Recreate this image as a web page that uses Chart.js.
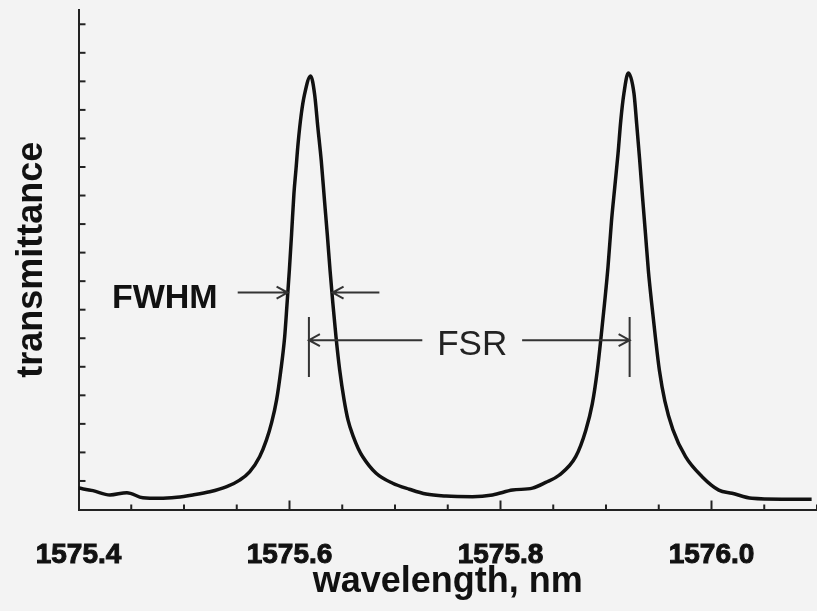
<!DOCTYPE html>
<html>
<head>
<meta charset="utf-8">
<script src="https://cdn.jsdelivr.net/npm/chart.js@4"></script>
<style>
  body { margin: 0; background: #f3f3f3; }
  #wrap { width: 817px; height: 611px; }
</style>
</head>
<body>
<div id="wrap"><canvas id="myChart" width="817" height="611"></canvas></div>
<script>
// wavelength (nm) and transmittance
const wavelength = [
    1575.4000, 1575.4137, 1575.4298, 1575.4459, 1575.4610, 1575.4771, 1575.4932, 1575.5083,
    1575.5244, 1575.5405, 1575.5528, 1575.5622, 1575.5717, 1575.5781, 1575.5831, 1575.5878,
    1575.5918, 1575.5954, 1575.5977, 1575.5999, 1575.6020, 1575.6042, 1575.6061, 1575.6081,
    1575.6112, 1575.6143, 1575.6200, 1575.6238, 1575.6269, 1575.6301, 1575.6330, 1575.6359,
    1575.6385, 1575.6411, 1575.6441, 1575.6476, 1575.6517, 1575.6555, 1575.6605, 1575.6650,
    1575.6694, 1575.6821, 1575.6978, 1575.7136, 1575.7294, 1575.7483, 1575.7735, 1575.7924,
    1575.8114, 1575.8303, 1575.8429, 1575.8555, 1575.8713, 1575.8808, 1575.8870, 1575.8918,
    1575.8953, 1575.8986, 1575.9019, 1575.9052, 1575.9083, 1575.9114, 1575.9140, 1575.9170,
    1575.9211, 1575.9265, 1575.9291, 1575.9318, 1575.9345, 1575.9374, 1575.9402, 1575.9433,
    1575.9468, 1575.9506, 1575.9558, 1575.9634, 1575.9754, 1575.9911, 1576.0069, 1576.0195,
    1576.0384, 1576.0665, 1576.0949
];
const transmittance = [
    0.75, 0.66, 0.51, 0.59, 0.41, 0.39, 0.43, 0.51,
    0.62, 0.80, 1.03, 1.32, 1.85, 2.43, 3.05, 3.85,
    4.88, 6.04, 7.22, 8.40, 9.67, 11.07, 11.90, 12.81,
    13.86, 14.55, 15.19, 14.55, 13.38, 12.22, 10.90, 9.60,
    8.35, 7.22, 6.04, 4.88, 3.85, 3.13, 2.55, 2.15,
    1.85, 1.27, 0.92, 0.71, 0.54, 0.47, 0.45, 0.51,
    0.68, 0.75, 0.95, 1.20, 1.85, 2.77, 3.70, 4.88,
    6.04, 7.22, 8.50, 10.10, 11.29, 12.47, 13.62, 14.58,
    15.29, 14.58, 13.50, 12.30, 11.00, 9.67, 8.35, 7.22,
    6.04, 4.88, 3.80, 2.80, 1.85, 1.15, 0.68, 0.57,
    0.39, 0.36, 0.36
];
const xTickLabels = ['1575.4', '1575.6', '1575.8', '1576.0'];

// annotations, in data units
const fwhm = { level: 7.6, left: 1575.5982, right: 1575.6408, leftFrom: 1575.5509, rightFrom: 1575.6852, textX: 1575.4818, textY: 7.05 };
const fsr = { level: 5.93, left: 1575.6184, right: 1575.9224, top: 6.74, bottom: 4.64, gapL: 1575.7259, gapR: 1575.8205, textX: 1575.7732, textY: 5.40 };

const axisColor = '#222';

function arrow(ctx, x1, y, x2) {
    // line from x1 to x2 with an open head at x2
    const dir = x2 > x1 ? 1 : -1;
    ctx.beginPath();
    ctx.moveTo(x1, y);
    ctx.lineTo(x2, y);
    ctx.moveTo(x2 - dir * 11, y - 6);
    ctx.lineTo(x2, y);
    ctx.lineTo(x2 - dir * 11, y + 6);
    ctx.stroke();
}

const extras = {
    id: 'extras',
    afterDraw(chart) {
        const ctx = chart.ctx;
        const x = chart.scales.x, y = chart.scales.y;
        const area = chart.chartArea;
        ctx.save();
        ctx.strokeStyle = axisColor;
        ctx.lineWidth = 2;
        // inward tick marks
        x.ticks.forEach(t => {
            const px = x.getPixelForValue(t.value);
            if (px <= area.left + 1 || px > area.right) return;
            const major = Math.abs(t.value * 5 - Math.round(t.value * 5)) < 1e-6;
            ctx.beginPath();
            ctx.moveTo(px, area.bottom);
            ctx.lineTo(px, area.bottom - (major ? 9 : 5));
            ctx.stroke();
        });
        y.ticks.forEach(t => {
            if (t.value <= 0 || Math.abs(t.value - Math.round(t.value)) > 1e-6) return;
            const py = y.getPixelForValue(t.value);
            ctx.beginPath();
            ctx.moveTo(area.left, py);
            ctx.lineTo(area.left + 7, py);
            ctx.stroke();
        });

        // FWHM
        ctx.strokeStyle = '#333';
        ctx.lineWidth = 2;
        const fy = y.getPixelForValue(fwhm.level);
        arrow(ctx, x.getPixelForValue(fwhm.leftFrom), fy, x.getPixelForValue(fwhm.left));
        arrow(ctx, x.getPixelForValue(fwhm.rightFrom), fy, x.getPixelForValue(fwhm.right));
        ctx.fillStyle = '#111';
        ctx.font = 'bold 34px "Liberation Sans", Arial, sans-serif';
        ctx.textAlign = 'center';
        ctx.textBaseline = 'alphabetic';
        ctx.fillText('FWHM', x.getPixelForValue(fwhm.textX), y.getPixelForValue(fwhm.textY));

        // FSR
        const sy = y.getPixelForValue(fsr.level);
        const sl = x.getPixelForValue(fsr.left), sr = x.getPixelForValue(fsr.right);
        const top = y.getPixelForValue(fsr.top), bot = y.getPixelForValue(fsr.bottom);
        ctx.beginPath();
        ctx.moveTo(sl, top); ctx.lineTo(sl, bot);
        ctx.moveTo(sr, top); ctx.lineTo(sr, bot);
        ctx.stroke();
        arrow(ctx, x.getPixelForValue(fsr.gapL), sy, sl);
        arrow(ctx, x.getPixelForValue(fsr.gapR), sy, sr);
        ctx.fillStyle = '#222';
        ctx.font = '35px "Liberation Sans", Arial, sans-serif';
        ctx.fillText('FSR', x.getPixelForValue(fsr.textX), y.getPixelForValue(fsr.textY));
        ctx.restore();
    }
};

const ctx = document.getElementById('myChart').getContext('2d');
const myChart = new Chart(ctx, {
    type: 'line',
    data: {
        datasets: [{
            label: 'transmittance',
            data: wavelength.map((w, i) => ({ x: w, y: transmittance[i] })),
            borderColor: '#111',
            borderWidth: 3.5,
            pointRadius: 0,
            cubicInterpolationMode: 'monotone',
            fill: false
        }]
    },
    options: {
        responsive: false,
        animation: false,
        layout: { padding: { top: 10, right: 0, bottom: 0, left: 0 } },
        plugins: {
            legend: { display: false },
            tooltip: { enabled: false }
        },
        scales: {
            x: {
                type: 'linear',
                min: 1575.4,
                max: 1576.1,
                afterFit: s => { s.height = 101.5; s.paddingLeft = 0; s.paddingRight = 0; },
                grid: { display: false, drawTicks: false },
                border: { display: true, color: axisColor, width: 2 },
                ticks: {
                    stepSize: 0.05,
                    autoSkip: false,
                    maxRotation: 0,
                    padding: 29,
                    color: '#111',
                    textStrokeColor: '#111',
                    textStrokeWidth: 1,
                    font: { family: '"Liberation Sans", Arial, sans-serif', weight: 'bold', size: 28 },
                    callback: v => {
                        const s = Number(v).toFixed(1);
                        return (Math.abs(v * 5 - Math.round(v * 5)) < 1e-6 && xTickLabels.includes(s)) ? s : '';
                    }
                },
                title: {
                    display: true,
                    text: 'wavelength, nm',
                    color: '#111',
                    padding: { top: 0, bottom: 7 },
                    font: { family: '"Liberation Sans", Arial, sans-serif', weight: 'bold', size: 36 }
                }
            },
            y: {
                min: 0,
                max: 17.5,
                afterFit: s => { s.width = 78.5; s.paddingTop = 0; s.paddingBottom = 0; },
                grid: { display: false, drawTicks: false },
                border: { display: true, color: axisColor, width: 2 },
                ticks: { display: false, stepSize: 1 },
                title: {
                    display: true,
                    text: 'transmittance',
                    color: '#111',
                    padding: { top: 10, bottom: 0 },
                    font: { family: '"Liberation Sans", Arial, sans-serif', weight: 'bold', size: 36 }
                }
            }
        }
    },
    plugins: [extras]
});
</script>
</body>
</html>
